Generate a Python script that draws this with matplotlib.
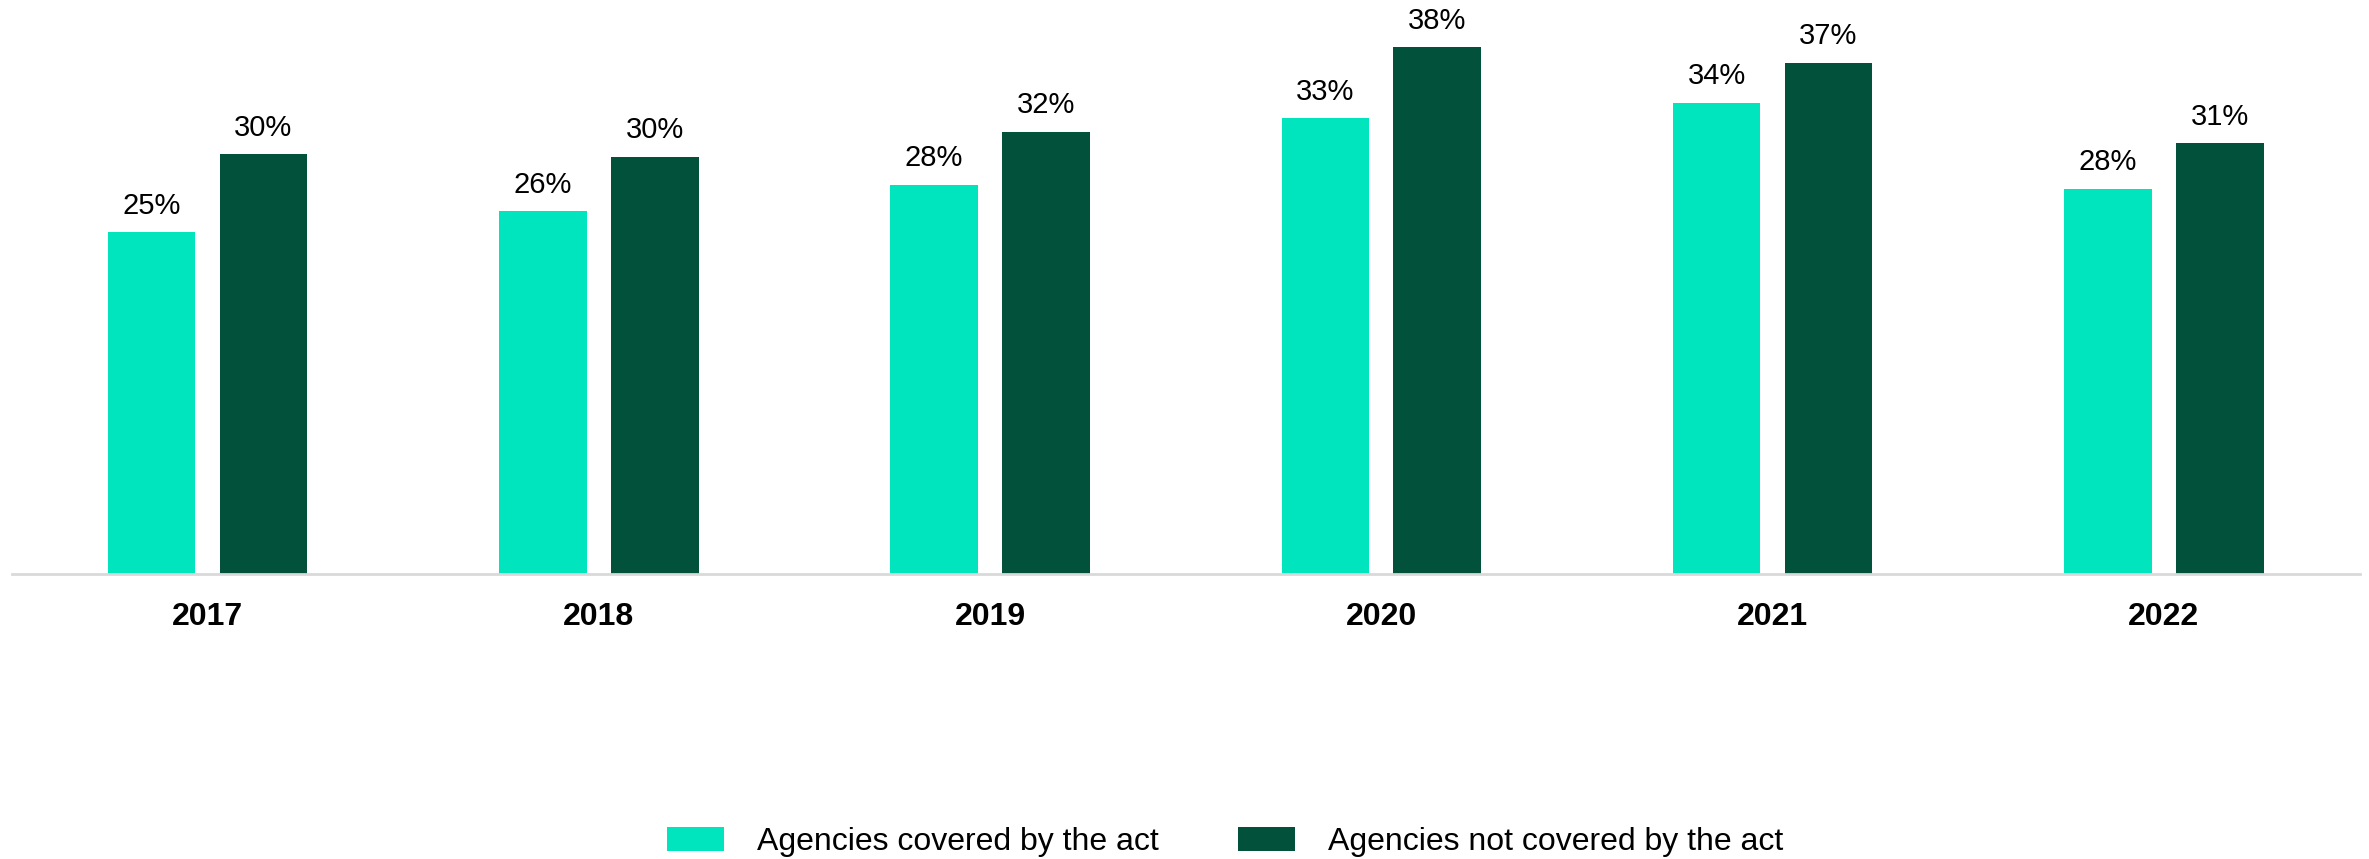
import numpy as np
import matplotlib
matplotlib.use("Agg")
import matplotlib.pyplot as plt

plt.rcParams['font.family'] = ['Liberation Sans', 'DejaVu Sans']

years = ['2017', '2018', '2019', '2020', '2021', '2022']
covered = [24.6, 26.1, 28.0, 32.8, 33.9, 27.7]
not_covered = [30.2, 30.0, 31.8, 37.9, 36.8, 31.0]
covered_labels = ['25%', '26%', '28%', '33%', '34%', '28%']
not_covered_labels = ['30%', '30%', '32%', '38%', '37%', '31%']

c_light = '#00E5BD'
c_dark = '#02513A'

fig = plt.figure(figsize=[23.69, 8.59], dpi=100)
ax = fig.add_axes([0.005, 0.332, 0.991, 0.668])

x = np.arange(len(years))
w = 0.224
off = 0.143
b1 = ax.bar(x - off, covered, w, color=c_light, label='Agencies covered by the act')
b2 = ax.bar(x + off, not_covered, w, color=c_dark, label='Agencies not covered by the act')

# value labels above each bar
for bars, labs in [(b1, covered_labels), (b2, not_covered_labels)]:
    for rect, lab in zip(bars, labs):
        ax.annotate(lab, (rect.get_x() + rect.get_width() / 2, rect.get_height()),
                    xytext=(0, 9), textcoords='offset points',
                    ha='center', va='bottom', fontsize=21)

ax.set_xlim(-0.5, len(years) - 0.5)
ax.set_ylim(0, 41.3)
ax.set_xticks(x)
ax.set_xticklabels(years, fontsize=23, fontweight='bold')
ax.tick_params(axis='x', length=0, pad=20)
ax.set_yticks([])
for s in ['top', 'right', 'left']:
    ax.spines[s].set_visible(False)
ax.spines['bottom'].set_color('#D9D9D9')
ax.spines['bottom'].set_linewidth(2)

fig.legend(handles=[b1, b2], loc='center', bbox_to_anchor=(1225 / 2369, 1 - 842 / 859),
           ncol=2, frameon=False, fontsize=23, handlelength=1.78, handleheight=0.81,
           handletextpad=1.03, columnspacing=2.5)

fig.savefig('out.png', dpi=100)
